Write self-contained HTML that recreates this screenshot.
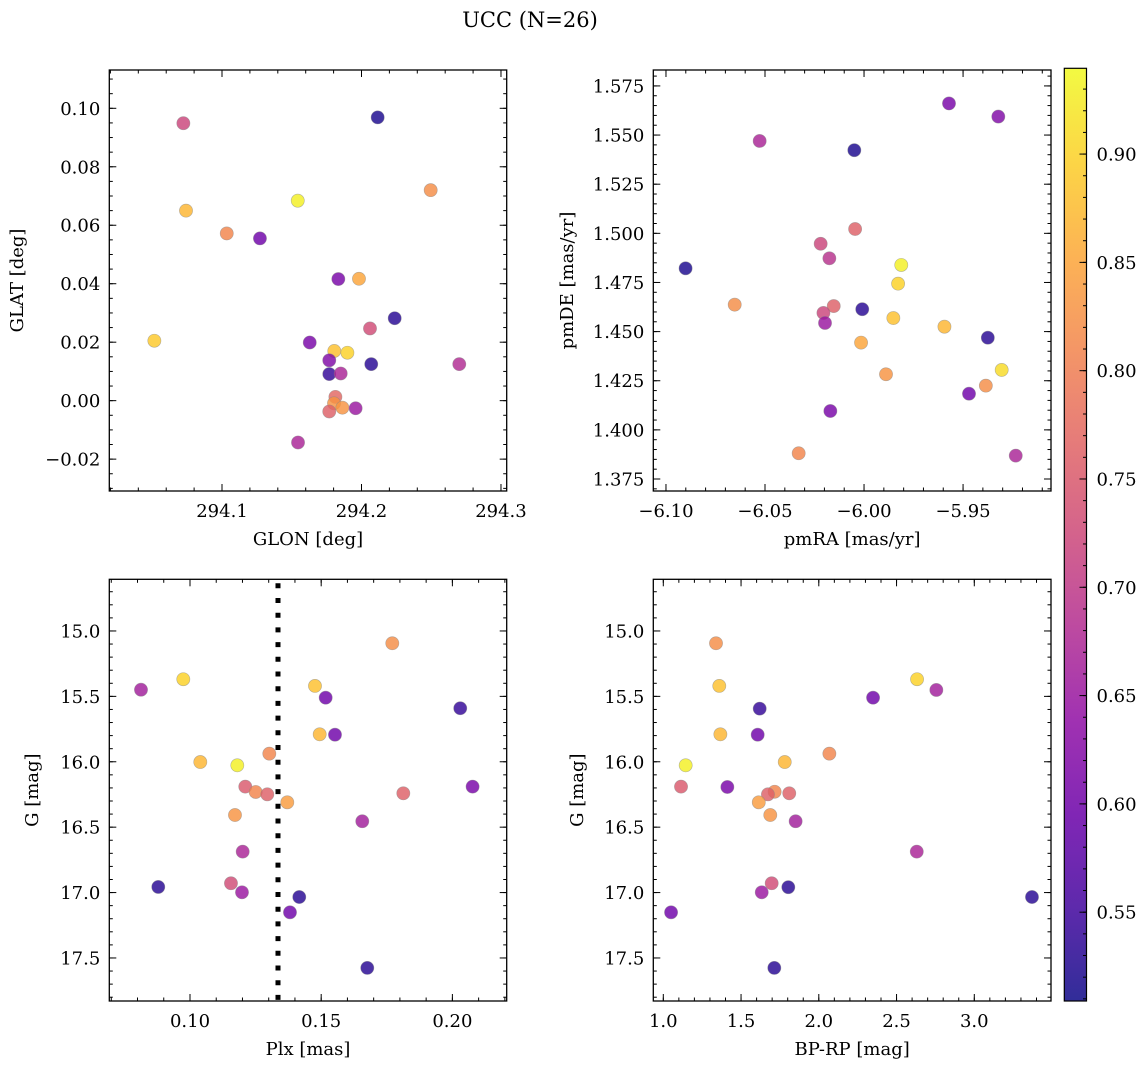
<!DOCTYPE html>
<html><head><meta charset="utf-8"><style>
body{margin:0;background:#fff;}
svg{display:block;font-family:"DejaVu Serif","Liberation Serif",serif;}
</style></head><body>
<svg id="fig" width="1148" height="1068" xmlns="http://www.w3.org/2000/svg">
<text x="530" y="27" font-size="21" text-anchor="middle">UCC (N=26)</text>
</svg>
<script>
// ---- data: panel 1 (GLON vs GLAT)
const glonX=[294.0723,294.2116,294.2496,294.1543,294.0742,294.1034,294.1272,294.1834,294.1982,294.2238,294.2061,294.0515,294.1629,294.1805,294.1899,294.1769,294.2070,294.2701,294.1769,294.1851,294.1813,294.1803,294.1863,294.1769,294.1958,294.1545];
const glatY=[0.0949,0.0969,0.0720,0.0684,0.0650,0.0572,0.0555,0.0416,0.0417,0.0282,0.0247,0.0205,0.0199,0.0170,0.0164,0.0138,0.0125,0.0125,0.0091,0.0093,0.0013,-0.0009,-0.0024,-0.0037,-0.0026,-0.0143];
const glonC=[0.72,0.52,0.82,0.93,0.87,0.81,0.60,0.61,0.85,0.53,0.73,0.89,0.61,0.88,0.90,0.62,0.53,0.68,0.54,0.67,0.77,0.83,0.83,0.76,0.65,0.67];
// ---- data: panel 2 (pmRA vs pmDE)
const pmraX=[-5.9571,-5.9322,-6.0527,-6.0049,-6.0045,-6.0219,-6.0175,-6.0901,-5.9812,-5.9828,-6.0653,-6.0153,-6.0205,-6.0009,-6.0197,-5.9852,-5.9594,-5.9375,-6.0015,-5.9305,-5.9889,-5.9385,-5.9470,-6.0170,-6.0330,-5.9234];
const pmdeY=[1.5661,1.5594,1.5470,1.5423,1.5022,1.4947,1.4873,1.4822,1.4839,1.4744,1.4637,1.4630,1.4595,1.4614,1.4544,1.4569,1.4525,1.4469,1.4444,1.4305,1.4283,1.4225,1.4184,1.4096,1.3881,1.3869];
const pmC=[0.61,0.62,0.67,0.52,0.76,0.72,0.69,0.52,0.93,0.90,0.82,0.76,0.72,0.53,0.65,0.88,0.87,0.53,0.85,0.91,0.83,0.82,0.60,0.61,0.81,0.67];
// ---- data: panel 3 (Plx vs G)
const plxX=[0.1771,0.09745,0.08133,0.14764,0.15171,0.2030,0.14943,0.15526,0.13023,0.10393,0.11803,0.12108,0.12504,0.12946,0.13708,0.2077,0.1813,0.11715,0.16566,0.12008,0.08792,0.11562,0.11982,0.14165,0.13811,0.16757];
const plxG=[15.094,15.369,15.449,15.420,15.510,15.591,15.790,15.793,15.938,16.002,16.027,16.190,16.231,16.249,16.310,16.190,16.241,16.407,16.455,16.687,16.957,16.929,16.998,17.034,17.151,17.576];
const plxC=[0.82,0.90,0.66,0.88,0.60,0.54,0.87,0.60,0.81,0.87,0.93,0.75,0.81,0.76,0.84,0.61,0.76,0.83,0.66,0.67,0.53,0.73,0.65,0.53,0.60,0.53];
const plxLine=[0.13354];
// ---- data: panel 4 (BP-RP vs G)
const bprpX=[1.339,1.360,2.632,2.756,2.349,1.620,1.367,1.607,2.068,1.781,1.144,1.114,1.412,1.716,1.673,1.810,1.614,1.688,1.851,2.630,1.804,1.697,1.633,3.371,1.050,1.714];
const bprpG=[15.094,15.420,15.369,15.451,15.510,15.594,15.790,15.793,15.938,16.002,16.027,16.190,16.193,16.229,16.249,16.241,16.310,16.407,16.455,16.687,16.959,16.929,16.998,17.034,17.151,17.576];
const bprpC=[0.82,0.88,0.90,0.66,0.60,0.54,0.87,0.60,0.81,0.87,0.93,0.75,0.61,0.81,0.76,0.76,0.84,0.83,0.66,0.67,0.53,0.73,0.65,0.53,0.60,0.53];
// tick labels
const ticks1X=[294.1,294.2,294.3], ticks1Y=[-0.02,0.00,0.02,0.04,0.06,0.08,0.10];
const ticks2X=[-6.10,-6.05,-6.00,-5.95], ticks2Y=[1.375,1.400,1.425,1.450,1.475,1.500,1.525,1.550,1.575];
const ticks3X=[0.10,0.15,0.20], ticksG=[15.0,15.5,16.0,16.5,17.0,17.5];
const ticks4X=[1.0,1.5,2.0,2.5,3.0];
const cbTicks=[0.55,0.60,0.65,0.70,0.75,0.80,0.85,0.90];
const cMin=0.509, cMax=0.9396;

const NS="http://www.w3.org/2000/svg";
const svg=document.getElementById('fig');
const FS=18;
function mk(tag,attrs,parent){const e=document.createElementNS(NS,tag);for(const k in attrs)e.setAttribute(k,attrs[k]);(parent||svg).appendChild(e);return e;}
const stops=['#0d0887','#41049d','#6a00a8','#8f0da4','#b12a90','#cc4778','#e16462','#f2844b','#fca636','#fcce25','#f0f921'];
function hex(h){return [1,3,5].map(i=>parseInt(h.substr(i,2),16));}
function plasma(t){t=Math.max(0,Math.min(1,t));const f=t*10,i=Math.min(9,Math.floor(f)),r=f-i;const a=hex(stops[i]),b=hex(stops[i+1]);return 'rgb('+a.map((v,k)=>Math.round(v+(b[k]-v)*r)).join(',')+')';}
function cmap(v){return plasma((v-cMin)/(cMax-cMin));}

function panel(o){
  const g=mk('g',{});
  
  
  const sx=v=>o.L+(v-o.x0)/(o.x1-o.x0)*(o.R-o.L);
  const sy=v=>o.B-(v-o.y0)/(o.y1-o.y0)*(o.B-o.T);
  function tk(val,major,axis){
    const len=major?7:3.5;
    if(axis==='x'){const x=sx(val);if(x<o.L-0.5||x>o.R+0.5)return;
      mk('line',{x1:x,x2:x,y1:o.B,y2:o.B-len,stroke:'#000','stroke-width':1},g);
      mk('line',{x1:x,x2:x,y1:o.T,y2:o.T+len,stroke:'#000','stroke-width':1},g);}
    else{const y=sy(val);if(y<o.T-0.5||y>o.B+0.5)return;
      mk('line',{x1:o.L,x2:o.L+len,y1:y,y2:y,stroke:'#000','stroke-width':1},g);
      mk('line',{x1:o.R,x2:o.R-len,y1:y,y2:y,stroke:'#000','stroke-width':1},g);}
  }
  const lo=Math.min(o.x0,o.x1),hi=Math.max(o.x0,o.x1);
  for(let v=Math.ceil(lo/o.xmin)*o.xmin;v<=hi;v+=o.xmin)tk(v,false,'x');
  const ylo=Math.min(o.y0,o.y1),yhi=Math.max(o.y0,o.y1);
  for(let v=Math.ceil(ylo/o.ymin)*o.ymin;v<=yhi;v+=o.ymin)tk(v,false,'y');
  o.tx.forEach(v=>{tk(v,true,'x');const t=mk('text',{x:sx(v),y:o.B+26,'font-size':FS,'text-anchor':'middle'},g);t.textContent=o.fx(v);
    
    });
  o.ty.forEach(v=>{tk(v,true,'y');const t=mk('text',{x:o.L-9,y:sy(v)+6.5,'font-size':FS,'text-anchor':'end'},g);t.textContent=o.fy(v);
    
    });
  if(o.vline){o.vline.forEach(v=>{const l=mk('line',{x1:sx(v),x2:sx(v),y1:o.T,y2:o.B,stroke:'#000','stroke-width':5,'stroke-dasharray':'5,9.7','stroke-dashoffset':'-4'},g);
    
    });}
  o.xs.forEach((v,i)=>{const c=mk('circle',{cx:sx(v),cy:sy(o.ys[i]),r:6.6,fill:cmap(o.cs[i]),'fill-opacity':0.82,stroke:'#888','stroke-opacity':0.6,'stroke-width':0.6},g);
    
    });
  mk('rect',{x:o.L,y:o.T,width:o.R-o.L,height:o.B-o.T,fill:'none',stroke:'#000','stroke-width':1.3},g);
  const xl=mk('text',{x:(o.L+o.R)/2,y:o.B+54,'font-size':FS,'text-anchor':'middle'},g);xl.textContent=o.xlab;
  
  
  const yx=o.ylx,yy=(o.T+o.B)/2;
  const yl=mk('text',{x:yx,y:yy,'font-size':FS,'text-anchor':'middle',transform:'rotate(-90 '+yx+' '+yy+')'},g);yl.textContent=o.ylab;
  
  
}
const f2=v=>v.toFixed(2).replace('-','\u2212'), f1=v=>v.toFixed(1), f3=v=>v.toFixed(3);
panel({name:'glon-glat-panel',L:109.3,R:506.7,T:70,B:491,x0:294.0192,x1:294.3041,y0:-0.0309,y1:0.1131,xmin:0.02,ymin:0.005,tx:ticks1X,ty:ticks1Y,fx:f1,fy:f2,xs:glonX,ys:glatY,cs:glonC,xlab:'GLON [deg]',ylab:'GLAT [deg]',ylx:23});
panel({name:'pm-panel',L:653.3,R:1051,T:70,B:491,x0:-6.1064,x1:-5.9056,y0:1.3689,y1:1.5831,xmin:0.01,ymin:0.005,tx:ticks2X,ty:ticks2Y,fx:f2,fy:f3,xs:pmraX,ys:pmdeY,cs:pmC,xlab:'pmRA [mas/yr]',ylab:'pmDE [mas/yr]',ylx:573});
panel({name:'plx-g-panel',L:109.3,R:506.7,T:579.3,B:1001,x0:0.06925,x1:0.2207,y0:17.829,y1:14.605,xmin:0.01,ymin:0.1,tx:ticks3X,ty:ticksG,fx:f2,fy:f1,xs:plxX,ys:plxG,cs:plxC,xlab:'Plx [mas]',ylab:'G [mag]',ylx:38,vline:plxLine});
panel({name:'cmd-panel',L:653.3,R:1051,T:579.3,B:1001,x0:0.9357,x1:3.4933,y0:17.829,y1:14.605,xmin:0.1,ymin:0.1,tx:ticks4X,ty:ticksG,fx:f1,fy:f1,xs:bprpX,ys:bprpG,cs:bprpC,xlab:'BP-RP [mag]',ylab:'G [mag]',ylx:583});

// colorbar
const cb=mk('g',{});


const defs=mk('defs',{},cb);
const lg=mk('linearGradient',{id:'cbg',x1:0,y1:1,x2:0,y2:0},defs);
for(let i=0;i<=20;i++){const v=cMin+(cMax-cMin)*i/20;mk('stop',{offset:i/20,'stop-color':cmap(v),'stop-opacity':0.85},lg);}
const CT=68.3,CB=1001,CL=1064.3,CR=1086.5;
const cy=v=>CB-(v-cMin)/(cMax-cMin)*(CB-CT);
mk('rect',{x:CL,y:CT,width:CR-CL,height:CB-CT,fill:'url(#cbg)'},cb);
for(let v=0.51;v<cMax;v+=0.01){const y=cy(v);mk('line',{x1:CR,x2:CR-3.5,y1:y,y2:y,stroke:'#000','stroke-width':1},cb);}
cbTicks.forEach(v=>{const y=cy(v);mk('line',{x1:CR,x2:CR-7,y1:y,y2:y,stroke:'#000','stroke-width':1},cb);
  const t=mk('text',{x:CR+10,y:y+6.5,'font-size':FS},cb);t.textContent=v.toFixed(2);
  
  });
mk('rect',{x:CL,y:CT,width:CR-CL,height:CB-CT,fill:'none',stroke:'#000','stroke-width':1.2},cb);
</script>
</body></html>
